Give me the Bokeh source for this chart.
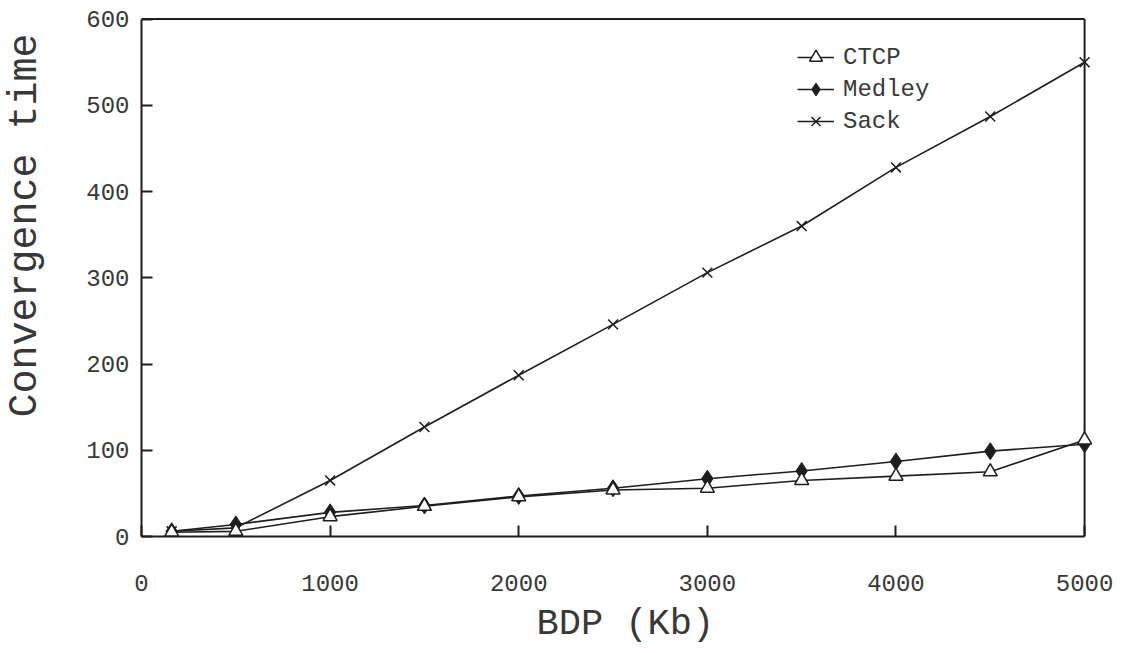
import math
from bokeh.plotting import figure
from bokeh.layouts import row
from bokeh.models import Range1d, FixedTicker, Legend, LegendItem, Title, Label
from bokeh.embed import file_html
from bokeh.resources import INLINE

# ---- data ----
bdp = [160, 500, 1000, 1500, 2000, 2500, 3000, 3500, 4000, 4500, 5000]
ctcp = [5, 6, 23, 35, 46, 54, 56, 65, 70, 75, 112]
medley = [6, 14, 28, 36, 47, 56, 67, 76, 87, 99, 107]
sack = [6, 10, 65, 127, 187, 246, 306, 360, 428, 487, 550]
x_ticks = [0, 1000, 2000, 3000, 4000, 5000]
y_ticks = [0, 100, 200, 300, 400, 500, 600]
x_title = "BDP (Kb)"
y_title = "Convergence time"

FONT = "Liberation Mono"
INK = "#1e1e1e"
TXT = "#383838"
H = 651
LW = 60
FRAME_BOTTOM = 536

# narrow strip holding the rotated y-axis title
lp = figure(width=LW, height=H, output_backend="svg", toolbar_location=None,
            x_range=Range1d(0, LW), y_range=Range1d(0, H), min_border=0,
            x_axis_location=None, y_axis_location=None)
lp.outline_line_color = None
lp.grid.visible = False
lp.xgrid.visible = False
lp.ygrid.visible = False
lp.background_fill_color = "white"
lp.border_fill_color = "white"
lp.add_layout(Label(x=25, y=FRAME_BOTTOM - 225, x_units="screen", y_units="screen", text=y_title,
                    angle=math.pi / 2, text_align="center", text_baseline="alphabetic",
                    text_font=FONT, text_font_size="40px", text_color=TXT))

p = figure(width=1125 - LW, height=H, output_backend="svg", toolbar_location=None,
           x_range=Range1d(0, 5042), y_range=Range1d(0, 603),
           min_border_left=141 - LW, min_border_right=33, min_border_top=16, min_border_bottom=115)
p.outline_line_color = None
p.xgrid.visible = False
p.ygrid.visible = False
p.background_fill_color = "white"
p.border_fill_color = "white"

for ax, ticks in ((p.xaxis[0], x_ticks), (p.yaxis[0], y_ticks)):
    ax.ticker = FixedTicker(ticks=ticks)
    ax.bounds = (ticks[0], ticks[-1])
    ax.axis_line_color = INK
    ax.axis_line_width = 2
    ax.major_tick_line_color = INK
    ax.major_tick_line_width = 2
    ax.major_tick_in = 11
    ax.major_tick_out = 0
    ax.minor_tick_line_color = None
    ax.major_label_text_font = FONT
    ax.major_label_text_font_size = "24px"
    ax.major_label_text_color = TXT
p.xaxis[0].major_label_standoff = 38
p.yaxis[0].major_label_standoff = 12

# right and top frame lines
p.segment(x0=[x_ticks[-1], x_ticks[0]], y0=[y_ticks[0], y_ticks[-1]],
          x1=[x_ticks[-1], x_ticks[-1]], y1=[y_ticks[-1], y_ticks[-1]],
          line_color=INK, line_width=2)

# series
l3 = p.line(bdp, sack, line_color=INK, line_width=1.6)
s3 = p.scatter(bdp, sack, marker="x", size=14, line_color=INK, line_width=1.5)
l2 = p.line(bdp, medley, line_color=INK, line_width=1.6)
s2 = p.scatter(bdp, medley, marker="diamond", size=17, fill_color=INK, line_color=INK, line_width=1)
l1 = p.line(bdp, ctcp, line_color=INK, line_width=1.6)
s1 = p.scatter(bdp, ctcp, marker="triangle", size=14, fill_color="white", line_color=INK, line_width=1.5)

legend = Legend(items=[LegendItem(label="CTCP", renderers=[l1, s1]),
                       LegendItem(label="Medley", renderers=[l2, s2]),
                       LegendItem(label="Sack", renderers=[l3, s3])],
                location=(656, 399))
legend.margin = 0
legend.padding = 0
legend.spacing = 0
legend.glyph_width = 37
legend.glyph_height = 32
legend.label_height = 32
legend.label_standoff = 9
legend.label_text_font = FONT
legend.label_text_font_size = "24px"
legend.label_text_color = TXT
legend.border_line_color = None
legend.background_fill_alpha = 0
p.add_layout(legend)

xt = Title(text=x_title, align="left", offset=395, standoff=14,
           text_font=FONT, text_font_size="37px", text_font_style="normal", text_color=TXT)
p.add_layout(xt, "below")

layout = row(lp, p)
open("out.html", "w").write(file_html(layout, INLINE))
